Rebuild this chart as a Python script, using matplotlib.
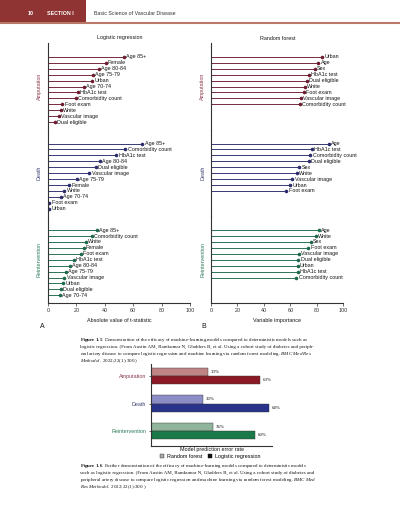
import matplotlib
matplotlib.use("Agg")
import matplotlib.pyplot as plt
from matplotlib.patches import Rectangle, Patch
from matplotlib.lines import Line2D

W, H = 400, 512
plt.rcParams['font.family'] = ['Liberation Sans', 'DejaVu Sans']
plt.rcParams['mathtext.fontset'] = 'custom'
plt.rcParams['mathtext.rm'] = 'Liberation Serif'
plt.rcParams['mathtext.it'] = 'Liberation Serif:italic'
plt.rcParams['mathtext.bf'] = 'Liberation Serif:bold'

# ---------------- data ----------------
lr_amp_labels = ["Age 85+", "Female", "Age 80-84", "Age 75-79", "Urban", "Age 70-74",
                 "HbA1c test", "Comorbidity count", "Foot exam", "White", "Vascular image", "Dual eligible"]
lr_amp_values = [53.5, 40.5, 36, 31.5, 31, 25, 21, 19.5, 10, 9, 7.5, 5]

lr_death_labels = ["Age 85+", "Comorbidity count", "HbA1c test", "Age 80-84", "Dual eligible",
                   "Vascular image", "Age 75-79", "Female", "White", "Age 70-74", "Foot exam", "Urban"]
lr_death_values = [66.5, 54.5, 48, 36.5, 33.5, 29, 20.5, 15, 11.5, 9, 1, 1]

lr_reint_labels = ["Age 85+", "Comorbidity count", "White", "Female", "Foot exam", "HbA1c test",
                   "Age 80-84", "Age 75-79", "Vascular image", "Urban", "Dual eligible", "Age 70-74"]
lr_reint_values = [34.5, 31, 26.5, 25, 23, 18, 15.5, 12.5, 11.5, 10.5, 9, 8.5]

rf_amp_labels = ["Urban", "Age", "Sex", "HbA1c test", "Dual eligible", "White", "Foot exam",
                 "Vascular image", "Comorbidity count"]
rf_amp_values = [84, 81, 78.5, 74, 72.5, 71, 70, 68, 67]

rf_death_labels = ["Age", "HbA1c test", "Comorbidity count", "Dual eligible", "Sex", "White",
                   "Vascular image", "Urban", "Foot exam"]
rf_death_values = [89, 76, 75, 74, 66.5, 65, 61.5, 60, 57]

rf_reint_labels = ["Age", "White", "Sex", "Foot exam", "Vascular image", "Dual eligible", "Urban",
                   "HbA1c test", "Comorbidity count"]
rf_reint_values = [81.5, 79, 75.5, 73.5, 66.5, 66, 65.5, 65.5, 64.5]

outcomes = ["Amputation", "Death", "Reintervention"]
x_ticks = [0, 20, 40, 60, 80, 100]

err_rf = [33, 30, 36]
err_lr = [63, 68, 60]

cap15_lines = [
    r"$\mathbf{Figure\ 1.5}$  Demonstration of the efficacy of machine-learning models compared to deterministic models such as",
    "logistic regression. (From Austin AM, Ramkumar N, Gladders B, et al. Using a cohort study of diabetes and periph-",
    r"eral artery disease to compare logistic regression and machine learning via random forest modeling. $\mathit{BMC\ Med\ Res}$",
    r"$\mathit{Methodol.}$ 2022;22(1):300.)",
]
cap16_lines = [
    r"$\mathbf{Figure\ 1.6}$  Further demonstration of the efficacy of machine-learning models compared to deterministic models",
    "such as logistic regression. (From Austin AM, Ramkumar N, Gladders B, et al. Using a cohort study of diabetes and",
    r"peripheral artery disease to compare logistic regression and machine learning via random forest modeling. $\mathit{BMC\ Med}$",
    r"$\mathit{Res\ Methodol.}$ 2022;22(1):300.)",
]

# ---------------- styles ----------------
dark_cols = ["#6d1c30", "#2b2c6c", "#1c6a4a"]
lab_cols = ["#8a3a4c", "#3a3c70", "#2a7a58"]
rf_bar_cols = ["#bf8585", "#8c8cc6", "#90b49c"]
lr_bar_cols = ["#8c1a26", "#28348a", "#1b7848"]
TXT = "#151515"

fig = plt.figure(figsize=(W / 100, H / 100), dpi=100)


def fx(x):
    return x / W


def fy(y):
    return 1 - y / H


def add_ax(x0, y0, x1, y1):
    return fig.add_axes([fx(x0), fy(y1), (x1 - x0) / W, (y1 - y0) / H])


# ---------------- header ----------------
fig.patches.append(Rectangle((0, fy(21.5)), fx(86), 21.5 / H, transform=fig.transFigure,
                             facecolor="#8f3433", edgecolor="none"))
fig.add_artist(Line2D([0, 1], [fy(22.6), fy(22.6)], transform=fig.transFigure,
                      color="#b9786a", lw=1.5))
fig.text(fx(28), fy(13.5), "10", color="white", fontsize=3.9, fontweight="bold", va="center")
fig.text(fx(47), fy(13.5), "SECTION I", color="white", fontsize=3.8, fontweight="bold", va="center")
fig.text(fx(94), fy(13.5), "Basic Science of Vascular Disease", color="#333333", fontsize=3.8, va="center")

# ---------------- lollipop panels ----------------
FS = 3.9
tops = [43, 129.6, 216.2]
ph = 86.6


def lollipop_column(x0, x1, labels_list, values_list, ylab_x, xlabel, title, title_x):
    for k in range(3):
        ax = add_ax(x0, tops[k], x1, tops[k] + ph)
        labels = labels_list[k]
        vals = values_list[k]
        ys = list(range(len(vals)))
        ax.hlines(ys, 0, vals, color=dark_cols[k], lw=0.65)
        ax.plot(vals, ys, "o", color=dark_cols[k], ms=2.6, mew=0)
        for v, yy, lab in zip(vals, ys, labels):
            ax.annotate(lab, (v, yy), xytext=(1.7, 0), textcoords="offset points",
                        va="center", ha="left", fontsize=FS, color=TXT)
        ax.set_xlim(0, 100)
        ax.set_ylim(12.26, -2.35)
        ax.set_yticks([])
        for s in ["top", "right"]:
            ax.spines[s].set_visible(False)
        ax.spines["left"].set_linewidth(0.8)
        ax.spines["left"].set_color("#333333")
        ax.patch.set_alpha(0)
        ax.set_ylabel(outcomes[k], color=lab_cols[k], fontsize=FS, labelpad=0)
        ax.yaxis.set_label_coords(ylab_x, 0.5)
        if k < 2:
            ax.spines["bottom"].set_visible(False)
            ax.set_xticks([])
        else:
            ax.spines["bottom"].set_linewidth(0.8)
            ax.spines["bottom"].set_color("#333333")
            ax.set_xticks(x_ticks)
            ax.tick_params(axis="x", length=1.8, width=0.5, labelsize=FS, pad=2.3,
                           colors="#333333")
            ax.set_xlabel(xlabel, fontsize=FS, color=TXT, labelpad=3)
    fig.text(fx(title_x), fy(38), title, fontsize=FS, ha="center", va="center", color=TXT)


lollipop_column(48, 190, [lr_amp_labels, lr_death_labels, lr_reint_labels],
                [lr_amp_values, lr_death_values, lr_reint_values], -0.045,
                "Absolute value of t-statistic", "Logistic regression", 120)
lollipop_column(211, 343.3, [rf_amp_labels, rf_death_labels, rf_reint_labels],
                [rf_amp_values, rf_death_values, rf_reint_values], -0.045,
                "Variable importance", "Random forest", 278)

fig.text(fx(42), fy(327), "A", fontsize=5.0, ha="center", va="center", color=TXT)
fig.text(fx(204), fy(327), "B", fontsize=5.0, ha="center", va="center", color=TXT)

# ---------------- captions ----------------
CFS = 3.65
SERIF = "Liberation Serif"
for i, line in enumerate(cap15_lines):
    fig.text(fx(80), fy(341 + i * 7.0), line, fontsize=CFS, family=SERIF,
             va="baseline", color=TXT)
for i, line in enumerate(cap16_lines):
    fig.text(fx(80), fy(467 + i * 7.0), line, fontsize=CFS, family=SERIF,
             va="baseline", color=TXT)

# ---------------- bar chart ----------------
bx = add_ax(150.7, 364, 272, 445.5)
pos = list(range(len(outcomes)))
bh = 0.3
bx.barh([p - bh / 2 for p in pos], err_rf, height=bh, color=rf_bar_cols,
        edgecolor="#333333", linewidth=0.3)
bx.barh([p + bh / 2 for p in pos], err_lr, height=bh, color=lr_bar_cols,
        edgecolor="#333333", linewidth=0.3)
for p, v in zip(pos, err_rf):
    bx.annotate(f"{v}%", (v, p - bh / 2), xytext=(2, 0), textcoords="offset points",
                va="center", fontsize=3.5, family=SERIF, color=TXT)
for p, v in zip(pos, err_lr):
    bx.annotate(f"{v}%", (v, p + bh / 2), xytext=(2, 0), textcoords="offset points",
                va="center", fontsize=3.5, family=SERIF, color=TXT)
bx.set_xlim(0, 70)
bx.set_ylim(2.52, -0.435)
bx.set_yticks(pos)
bx.set_yticklabels(outcomes, fontsize=FS)
bx.tick_params(axis="y", length=1.8, width=0.5, pad=1.5, colors="#333333")
for lab, c in zip(bx.get_yticklabels(), lab_cols):
    lab.set_color(c)
bx.set_xticks([])
for s in ["top", "right"]:
    bx.spines[s].set_visible(False)
for s in ["left", "bottom"]:
    bx.spines[s].set_linewidth(0.8)
    bx.spines[s].set_color("#333333")
bx.patch.set_alpha(0)
fig.text(fx(212), fy(449.5), "Model prediction error rate", fontsize=FS, ha="center",
         va="center", color=TXT)
handles = [Patch(facecolor="#a6a6a6", edgecolor="#333333", linewidth=0.3, label="Random forest"),
           Patch(facecolor="#111111", edgecolor="#111111", linewidth=0.3, label="Logistic regression")]
fig.legend(handles=handles, loc="center", bbox_to_anchor=(fx(210), fy(456.8)), ncol=2,
           frameon=False, fontsize=FS, handlelength=0.8, handleheight=0.8, handletextpad=0.5,
           columnspacing=1.0, borderpad=0)

fig.savefig("out.png", dpi=100)
